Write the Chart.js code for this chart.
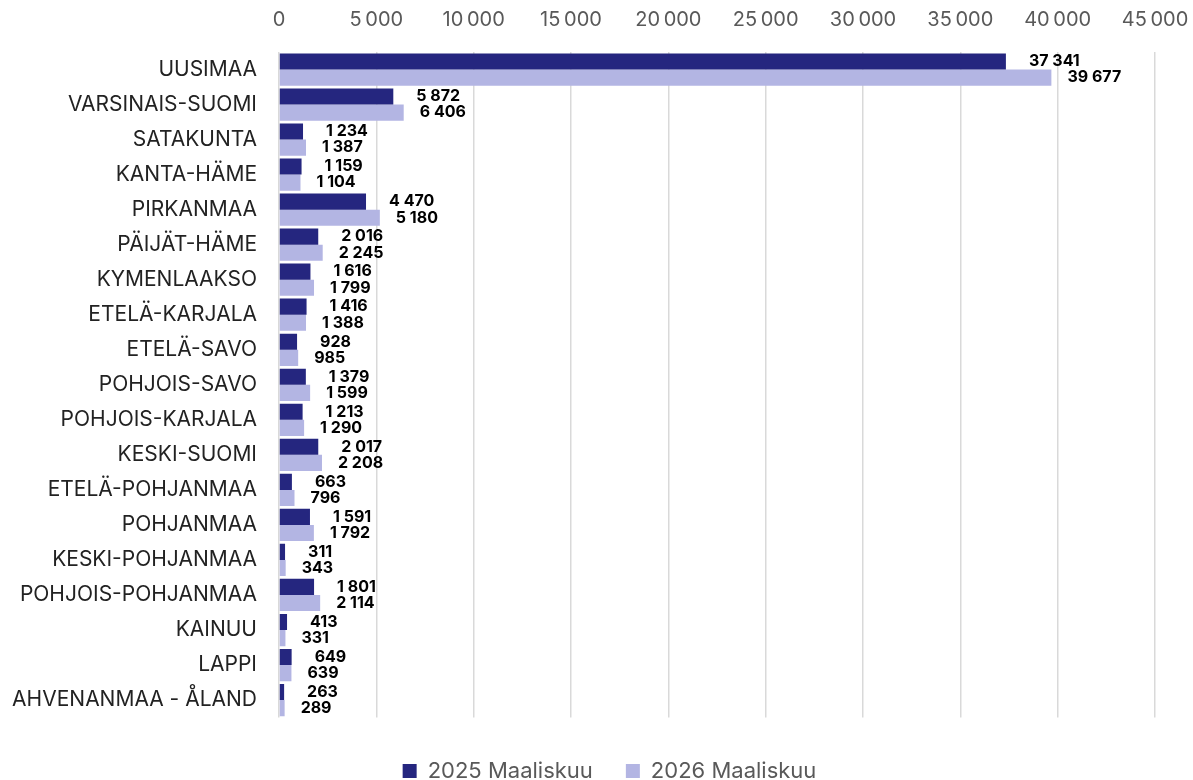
<!DOCTYPE html>
<html>
<head>
<meta charset="utf-8">
<script src="https://cdn.jsdelivr.net/npm/chart.js"></script>
<style>
  html, body { margin: 0; padding: 0; background: #fff; overflow: hidden; }
  #wrap { width: 1193px; height: 780px; position: relative; }
</style>
</head>
<body>
<div id="wrap"><canvas id="regionChart"></canvas></div>
<script>
// Maakunnat ja arvot
const regions = ['UUSIMAA', 'VARSINAIS-SUOMI', 'SATAKUNTA', 'KANTA-HÄME', 'PIRKANMAA', 'PÄIJÄT-HÄME',
    'KYMENLAAKSO', 'ETELÄ-KARJALA', 'ETELÄ-SAVO', 'POHJOIS-SAVO', 'POHJOIS-KARJALA', 'KESKI-SUOMI',
    'ETELÄ-POHJANMAA', 'POHJANMAA', 'KESKI-POHJANMAA', 'POHJOIS-POHJANMAA', 'KAINUU', 'LAPPI',
    'AHVENANMAA - ÅLAND'];
const values2025 = [37341, 5872, 1234, 1159, 4470, 2016, 1616, 1416, 928, 1379, 1213, 2017, 663, 1591, 311, 1801, 413, 649, 263];
const values2026 = [39677, 6406, 1387, 1104, 5180, 2245, 1799, 1388, 985, 1599, 1290, 2208, 796, 1792, 343, 2114, 331, 639, 289];
const seriesNames = ['2025 Maaliskuu', '2026 Maaliskuu'];
const xMax = 45000;
const xStep = 5000;

const FONT = 'Inter, "Open Sans", sans-serif';

function fmt(n, sep) {
    return String(n).replace(/\B(?=(\d{3})+(?!\d))/g, sep);
}

// Arvolabelit palkkien perään
const valueLabels = {
    id: 'valueLabels',
    afterDatasetsDraw(chart) {
        const ctx = chart.ctx;
        ctx.save();
        ctx.font = 'bold 16px ' + FONT;
        ctx.fillStyle = '#000';
        ctx.textBaseline = 'middle';
        ctx.textAlign = 'left';
        const offsets = [23, 16];
        chart.data.datasets.forEach((ds, i) => {
            chart.getDatasetMeta(i).data.forEach((bar, j) => {
                ctx.fillText(fmt(ds.data[j], ' '), bar.x + offsets[i], bar.y);
            });
        });
        ctx.restore();
    }
};

// Selite hieman oikealle, kuten alkuperäisessä
const legendShift = {
    id: 'legendShift',
    afterLayout(chart) {
        if (chart.legend) {
            chart.legend.left += 32;
            chart.legend.right += 32;
        }
    }
};

const ctx = document.getElementById('regionChart').getContext('2d');
new Chart(ctx, {
    type: 'bar',
    data: {
        labels: regions,
        datasets: [
            { label: seriesNames[0], data: values2025, backgroundColor: '#25267f' },
            { label: seriesNames[1], data: values2026, backgroundColor: '#b3b5e3' }
        ]
    },
    options: {
        indexAxis: 'y',
        responsive: true,
        maintainAspectRatio: false,
        animation: false,
        layout: { padding: { left: 0, right: 38, top: 0, bottom: -12 } },
        datasets: { bar: { categoryPercentage: 0.92, barPercentage: 1 } },
        plugins: {
            legend: {
                position: 'bottom',
                title: { display: true, text: '', font: { size: 2 }, padding: { top: 7, bottom: 0 } },
                labels: {
                    boxWidth: 14,
                    boxHeight: 14,
                    padding: 33,
                    color: '#595959',
                    font: { family: FONT, size: 22 }
                }
            },
            tooltip: { enabled: false }
        },
        scales: {
            x: {
                position: 'top',
                min: 0,
                max: xMax,
                ticks: {
                    stepSize: xStep,
                    color: '#595959',
                    font: { family: FONT, size: 20 },
                    padding: 20,
                    callback: v => fmt(v, '\u2009')
                },
                grid: { color: '#d9d9d9', lineWidth: 1.5, drawTicks: false },
                border: { display: false },
                afterFit: s => { s.height = 52; s.paddingLeft = 0; s.paddingRight = 0; }
            },
            y: {
                ticks: {
                    color: '#222',
                    font: { family: FONT, size: 21 },
                    padding: 22,
                    autoSkip: false
                },
                grid: { display: false, drawTicks: false },
                border: { display: false },
                afterFit: s => { s.width = 279; }
            }
        }
    },
    plugins: [valueLabels, legendShift]
});
</script>
</body>
</html>
